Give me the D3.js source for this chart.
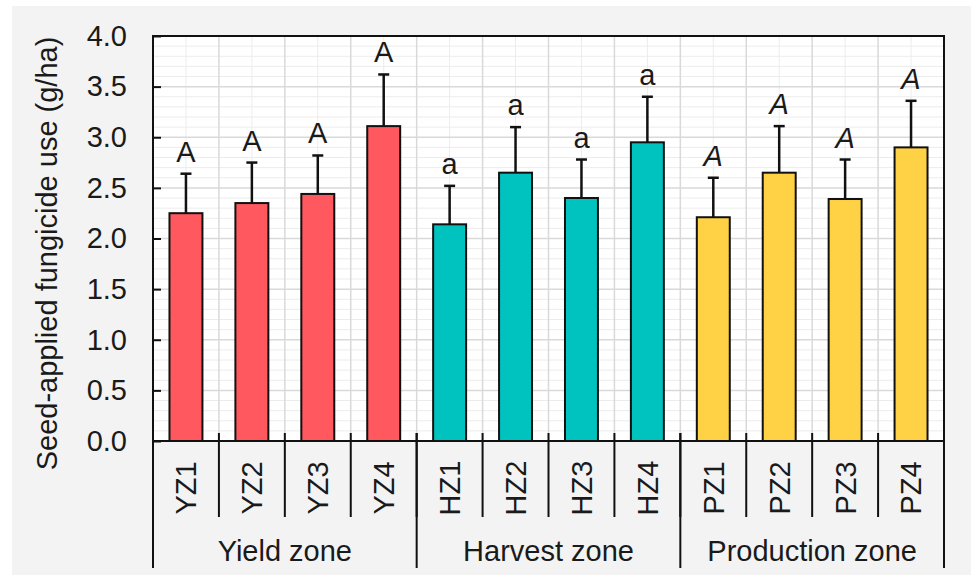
<!DOCTYPE html>
<meta charset="utf-8">
<title>Seed-applied fungicide use</title>
<style>
body { margin: 0; background: #fff; }
svg { display: block; font-family: 'Liberation Sans', Arial, sans-serif; }
.axis text { font-size: 29px; fill: #1a1a1a; }
.axis path { display: none; }
.axis line { stroke: #111; stroke-width: 2; }
</style>
<svg width="971" height="575"></svg>
<script src="https://d3js.org/d3.v7.min.js"></script>
<script>

var categories = ["YZ1", "YZ2", "YZ3", "YZ4", "HZ1", "HZ2", "HZ3", "HZ4", "PZ1", "PZ2", "PZ3", "PZ4"];
var groups = ["Yield zone", "Harvest zone", "Production zone"];
var groupOf = ["Yield zone", "Yield zone", "Yield zone", "Yield zone",
  "Harvest zone", "Harvest zone", "Harvest zone", "Harvest zone",
  "Production zone", "Production zone", "Production zone", "Production zone"];
var means = [2.25, 2.35, 2.44, 3.11, 2.14, 2.65, 2.40, 2.95, 2.21, 2.65, 2.39, 2.90];
var errs = [0.39, 0.40, 0.38, 0.51, 0.38, 0.45, 0.38, 0.45, 0.39, 0.46, 0.39, 0.46];
var letters = ["A", "A", "A", "A", "a", "a", "a", "a", "A", "A", "A", "A"];
var yTicks = [0, 0.5, 1, 1.5, 2, 2.5, 3, 3.5, 4];

var colors = { "Yield zone": "#ff585e", "Harvest zone": "#00c3bf", "Production zone": "#ffd245" };

var svg = d3.select("svg");
var pLeft = 153, pRight = 944, pTop = 36, pBottom = 441;

svg.append("rect")
  .attr("x", 12).attr("y", 6)
  .attr("width", 959).attr("height", 569)
  .attr("fill", "#f3f3f3");

var x = d3.scaleBand().domain(categories).range([pLeft, pRight])
  .paddingInner(0.5).paddingOuter(0.25);
var xg = d3.scaleBand().domain(groups).range([pLeft, pRight]);
var y = d3.scaleLinear().domain([0, 4]).range([pBottom, pTop]);
var half = x.step() / 2;

// plot background
svg.append("rect")
  .attr("x", pLeft).attr("y", pTop)
  .attr("width", pRight - pLeft).attr("height", pBottom - pTop)
  .attr("fill", "#fff");

var grid = svg.append("g");
// minor horizontal grid every 0.1
grid.selectAll(".hmin")
  .data(d3.range(1, 40).filter(function(i) { return i % 5 != 0; }))
  .enter().append("line")
  .attr("x1", pLeft).attr("x2", pRight)
  .attr("y1", function(i) { return y(i / 10); })
  .attr("y2", function(i) { return y(i / 10); })
  .attr("stroke", "#ececec").attr("stroke-width", 1);
// minor vertical grid at category centres
grid.selectAll(".vmin")
  .data(categories)
  .enter().append("line")
  .attr("y1", pTop).attr("y2", pBottom)
  .attr("x1", function(d) { return x(d) + x.bandwidth() / 2; })
  .attr("x2", function(d) { return x(d) + x.bandwidth() / 2; })
  .attr("stroke", "#ececec").attr("stroke-width", 1);
// major horizontal grid
grid.selectAll(".hmaj")
  .data(yTicks.slice(1, -1))
  .enter().append("line")
  .attr("x1", pLeft).attr("x2", pRight)
  .attr("y1", function(d) { return y(d); })
  .attr("y2", function(d) { return y(d); })
  .attr("stroke", "#d9d9d9").attr("stroke-width", 1.5);
// major vertical grid at category boundaries
grid.selectAll(".vmaj")
  .data(categories.slice(1))
  .enter().append("line")
  .attr("y1", pTop).attr("y2", pBottom)
  .attr("x1", function(d) { return x(d) + x.bandwidth() / 2 - half; })
  .attr("x2", function(d) { return x(d) + x.bandwidth() / 2 - half; })
  .attr("stroke", "#d9d9d9").attr("stroke-width", 1.5);

// bars
svg.selectAll(".bar")
  .data(categories)
  .enter().append("rect")
  .attr("class", "bar")
  .attr("x", function(d) { return x(d); })
  .attr("width", x.bandwidth())
  .attr("y", function(d, i) { return y(means[i]); })
  .attr("height", function(d, i) { return y(0) - y(means[i]); })
  .attr("fill", function(d, i) { return colors[groupOf[i]]; })
  .attr("stroke", "#111").attr("stroke-width", 2);

// error bars
var eb = svg.selectAll(".err")
  .data(categories)
  .enter().append("g")
  .attr("class", "err")
  .attr("transform", function(d) { return "translate(" + (x(d) + x.bandwidth() / 2) + ",0)"; });
eb.append("line")
  .attr("x1", 0).attr("x2", 0)
  .attr("y1", function(d, i) { return y(means[i]); })
  .attr("y2", function(d, i) { return y(means[i] + errs[i]); })
  .attr("stroke", "#111").attr("stroke-width", 2.5);
eb.append("line")
  .attr("x1", -5.5).attr("x2", 5.5)
  .attr("y1", function(d, i) { return y(means[i] + errs[i]); })
  .attr("y2", function(d, i) { return y(means[i] + errs[i]); })
  .attr("stroke", "#111").attr("stroke-width", 2.5);
eb.append("text")
  .attr("y", function(d, i) { return y(means[i] + errs[i]) - 12; })
  .attr("text-anchor", "middle")
  .style("font-size", "29px")
  .style("font-style", function(d, i) { return groupOf[i] == "Production zone" ? "italic" : "normal"; })
  .attr("fill", "#1a1a1a")
  .text(function(d, i) { return letters[i]; });

// frame
svg.append("rect")
  .attr("x", pLeft).attr("y", pTop)
  .attr("width", pRight - pLeft).attr("height", pBottom - pTop)
  .attr("fill", "none").attr("stroke", "#111").attr("stroke-width", 2);

// y axis
svg.append("g")
  .attr("class", "axis")
  .attr("transform", "translate(" + pLeft + ",0)")
  .call(d3.axisLeft(y).tickValues(yTicks).tickFormat(d3.format(".1f")).tickSize(-8).tickPadding(26));

svg.append("text")
  .attr("transform", "translate(57," + ((pTop + pBottom) / 2 + 15) + ") rotate(-90)")
  .attr("text-anchor", "middle")
  .style("font-size", "29px")
  .attr("fill", "#1a1a1a")
  .text("Seed-applied fungicide use (g/ha)");

// x axis: category separators and labels
var xa = svg.append("g").attr("class", "axis");
xa.selectAll(".sep")
  .data(categories.slice(1))
  .enter().append("line")
  .attr("x1", function(d) { return x(d) + x.bandwidth() / 2 - half; })
  .attr("x2", function(d) { return x(d) + x.bandwidth() / 2 - half; })
  .attr("y1", pBottom - 8).attr("y2", 517);
xa.selectAll(".gsep")
  .data(groups.concat(["end"]))
  .enter().append("line")
  .attr("x1", function(d) { return d == "end" ? pRight : xg(d); })
  .attr("x2", function(d) { return d == "end" ? pRight : xg(d); })
  .attr("y1", function(d, i) { return i == 0 || d == "end" ? pBottom : pBottom - 8; })
  .attr("y2", 568);
xa.selectAll(".cat")
  .data(categories)
  .enter().append("text")
  .attr("transform", function(d) { return "translate(" + (x(d) + x.bandwidth() / 2) + ",488) rotate(-90)"; })
  .attr("text-anchor", "middle")
  .attr("dy", "0.36em")
  .text(function(d) { return d; });
xa.selectAll(".grp")
  .data(groups)
  .enter().append("text")
  .attr("x", function(d) { return xg(d) + xg.bandwidth() / 2; })
  .attr("y", 561)
  .attr("text-anchor", "middle")
  .text(function(d) { return d; });

</script>
